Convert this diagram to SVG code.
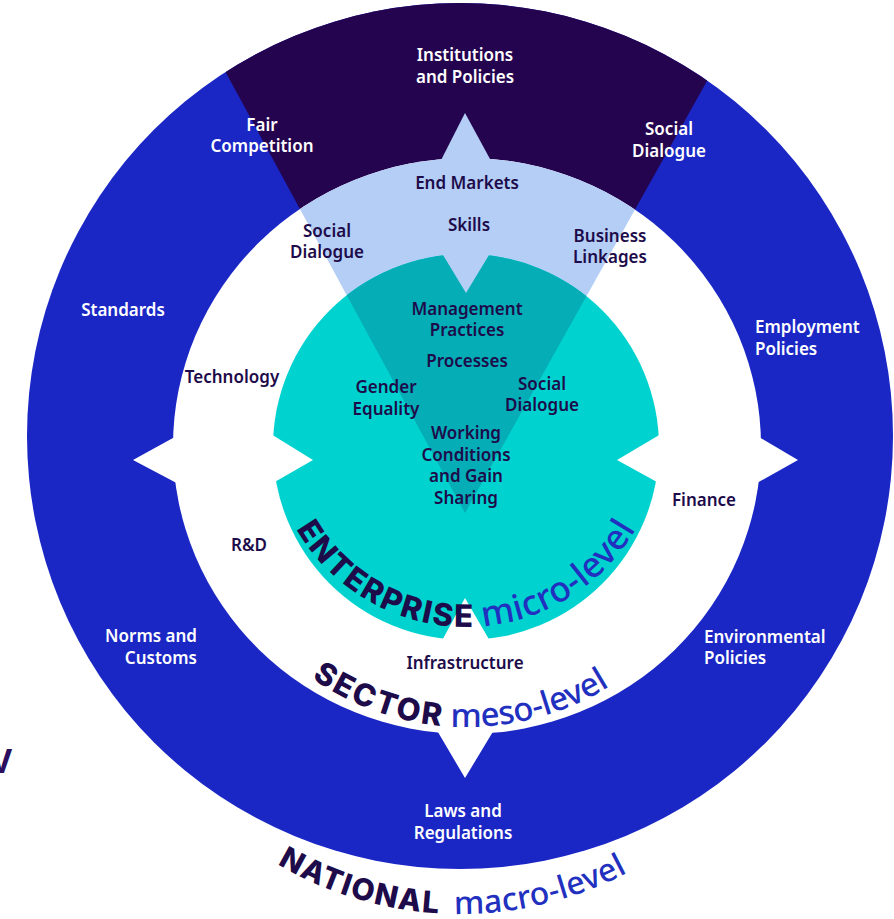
<svg xmlns="http://www.w3.org/2000/svg" width="894" height="919" viewBox="0 0 894 919">
<style>
.lbl{font-family:"Noto Sans","Open Sans","Liberation Sans",sans-serif;font-size:17px;font-weight:600;text-anchor:middle}
.st{text-anchor:start}
.en{text-anchor:end}
.w{fill:#ffffff}
.d{fill:#1d0b4a}
.big{font-family:"Noto Sans","Liberation Sans",sans-serif}
.hv{font-family:Inter,"Noto Sans","Liberation Sans",sans-serif;font-weight:800;fill:#1d0b4a}
.lev{font-weight:500;fill:#2230c0}
</style>
<defs>
<clipPath id="outerClip"><circle cx="460" cy="436" r="433"/></clipPath>
<clipPath id="whiteClip"><ellipse cx="467" cy="446" rx="294" ry="288"/></clipPath>
<clipPath id="tealClip"><circle cx="466" cy="447" r="193"/></clipPath>
<path id="arcEnt" d="M 270 431 A 196 196 0 0 0 662 431"/>
<path id="arcSec" d="M 196 456 A 271 271 0 0 0 738 456"/>
<path id="arcNat" d="M 101 555 A 359 359 0 0 0 819 555"/>
</defs>

<g id="national-ring">
<circle cx="460" cy="436" r="433" fill="#1a27c5"/>
<polygon points="465,513 181,-10 758,-10" fill="#25044f" clip-path="url(#outerClip)"/>
</g>

<g id="sector-ring">
<ellipse cx="467" cy="446" rx="294" ry="288" fill="#ffffff"/>
<polygon points="182,433 133,460 186,488" fill="#ffffff"/>
<polygon points="752,433 798,460 748,488" fill="#ffffff"/>
<polygon points="432,722 465,778 500,720" fill="#ffffff"/>
<polygon points="465,513 181,-10 758,-10" fill="#b4cef6" clip-path="url(#whiteClip)"/>
<polygon points="436,170 465,113 496,170" fill="#b4cef6"/>
</g>

<g id="enterprise-core">
<circle cx="466" cy="447" r="193" fill="#00d2cf"/>
<polygon points="465,513 181,-10 758,-10" fill="#05adb6" clip-path="url(#tealClip)"/>
<polygon points="440,250 466,293 492,250" fill="#b4cef6"/>
<polygon points="266,431 313,460 266,487" fill="#ffffff"/>
<polygon points="666,431 617,460 666,487" fill="#ffffff"/>
<polygon points="438,648 465,598 494,648" fill="#ffffff"/>
</g>

<g id="national-labels" class="lbl w">
<text x="465" y="60.5">Institutions</text>
<text x="465" y="82.5">and Policies</text>
<text x="262" y="130.5">Fair</text>
<text x="262" y="152">Competition</text>
<text x="669" y="135">Social</text>
<text x="669" y="157">Dialogue</text>
<text x="123" y="315.5">Standards</text>
<text x="755" y="333" class="st">Employment</text>
<text x="755" y="355" class="st">Policies</text>
<text x="197" y="642" class="en">Norms and</text>
<text x="197" y="664" class="en">Customs</text>
<text x="704" y="643" class="st">Environmental</text>
<text x="704" y="664" class="st">Policies</text>
<text x="463" y="817">Laws and</text>
<text x="463" y="839">Regulations</text>
</g>

<g id="sector-labels" class="lbl d">
<text x="467" y="189">End Markets</text>
<text x="469" y="231">Skills</text>
<text x="327" y="237">Social</text>
<text x="327" y="258">Dialogue</text>
<text x="610" y="242">Business</text>
<text x="610" y="263">Linkages</text>
<text x="232" y="383">Technology</text>
<text x="249" y="551">R&amp;D</text>
<text x="704" y="506">Finance</text>
<text x="465" y="669">Infrastructure</text>
</g>

<g id="enterprise-labels" class="lbl d">
<text x="467" y="315">Management</text>
<text x="467" y="336">Practices</text>
<text x="467" y="367">Processes</text>
<text x="386" y="393">Gender</text>
<text x="386" y="415">Equality</text>
<text x="542" y="390">Social</text>
<text x="542" y="411">Dialogue</text>
<text x="466" y="439">Working</text>
<text x="466" y="461">Conditions</text>
<text x="466" y="482">and Gain</text>
<text x="466" y="504">Sharing</text>
</g>

<g id="level-titles" class="big">
<text class="hv" font-size="31"><textPath href="#arcEnt" startOffset="102.6" textLength="212" lengthAdjust="spacing">ENTERPRISE</textPath></text>
<text class="lev" font-size="35"><textPath href="#arcEnt" startOffset="325" textLength="188" lengthAdjust="spacing">micro-level</textPath></text>
<text class="hv" font-size="31"><textPath href="#arcSec" startOffset="260" textLength="139" lengthAdjust="spacing">SECTOR</textPath></text>
<text class="lev" font-size="33"><textPath href="#arcSec" startOffset="409" textLength="167" lengthAdjust="spacing">meso-level</textPath></text>
<text class="hv" font-size="30"><textPath href="#arcNat" startOffset="372" textLength="170" lengthAdjust="spacing">NATIONAL</textPath></text>
<text class="lev" font-size="32"><textPath href="#arcNat" startOffset="558" textLength="180" lengthAdjust="spacing">macro-level</textPath></text>
</g>

<text x="-10" y="773" font-family="Noto Sans, Liberation Sans, sans-serif" font-size="34" font-weight="700" fill="#2b0f5e">V</text>
</svg>
